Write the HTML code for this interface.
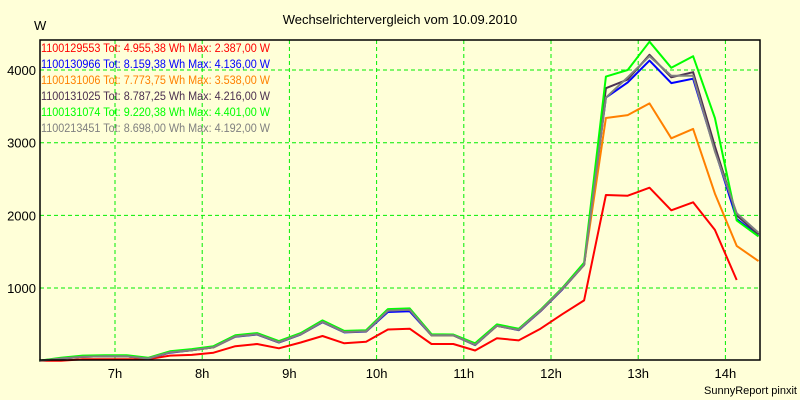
<!DOCTYPE html>
<html><head><meta charset="utf-8"><style>
body{margin:0;background:#ffffd8;}
svg{display:block;font-family:"Liberation Sans",sans-serif;}
</style></head><body>
<svg id="chart" width="800" height="400" viewBox="0 0 800 400">
<rect x="0" y="0" width="800" height="400" fill="#ffffd8"/>
<text x="400" y="24" font-size="13" text-anchor="middle">Wechselrichtervergleich vom 10.09.2010</text>
<text x="34" y="30" font-size="13">W</text>
<text x="797" y="394" font-size="11" text-anchor="end">SunnyReport pinxit</text>
<g id="grid"></g>
<g id="series"></g>
<rect x="40" y="40" width="720" height="320" fill="none" stroke="#000" stroke-width="1.5"/>
<g id="axes"></g>
<g id="legend"></g>
</svg>
<script>
const times=[6.13,6.38,6.63,6.88,7.13,7.38,7.63,7.88,8.13,8.38,8.63,8.88,9.13,9.38,9.63,9.88,10.13,10.38,10.63,10.88,11.13,11.38,11.63,11.88,12.13,12.38,12.63,12.88,13.13,13.38,13.63,13.88,14.13,14.38];
const yTicks=[1000,2000,3000,4000];
const xTicks=[7,8,9,10,11,12,13,14];
const xTickLabels=["7h","8h","9h","10h","11h","12h","13h","14h"];
const names=["1100129553","1100130966","1100131006","1100131025","1100131074","1100213451"];
const totals=["4.955,38","8.159,38","7.773,75","8.787,25","9.220,38","8.698,00"];
const maxima=["2.387,00","4.136,00","3.538,00","4.216,00","4.401,00","4.192,00"];
const colors=["#ff0000","#0000ff","#ff8000","#4b3050","#00ff00","#808080"];
const sRed=[0,0,20,20,20,20,70,80,110,200,230,170,250,340,240,260,430,440,230,230,140,310,280,440,640,830,2280,2270,2380,2070,2180,1800,1110,null];
const sBlue=[0,30,55,60,60,30,110,145,185,330,360,250,360,530,390,400,670,680,350,350,215,480,420,680,980,1320,3620,3830,4130,3820,3880,2900,1950,1720];
const sOrange=[0,30,55,60,60,30,115,145,185,335,365,255,365,535,395,405,690,710,350,350,220,480,425,685,985,1320,3340,3380,3540,3060,3190,2300,1580,1370];
const sPurple=[0,30,55,60,60,30,115,145,185,335,365,255,365,535,395,405,695,700,350,350,220,480,425,690,990,1320,3750,3870,4210,3900,3970,2950,2000,1740];
const sGreen=[0,40,70,75,75,40,130,160,200,350,380,270,380,555,410,420,710,720,365,360,240,500,440,700,1000,1350,3910,4000,4390,4030,4190,3340,1930,1710];
const sGray=[0,30,55,60,60,30,115,145,185,335,365,255,365,535,395,405,690,700,350,350,220,480,425,690,990,1320,3620,3900,4190,3920,3920,2880,2030,1760];
const seriesData=[sRed,sBlue,sOrange,sPurple,sGreen,sGray];
const NS="http://www.w3.org/2000/svg";
function xs(t){return 115+(t-7)*87.2;}
function ys(v){return 360.7-v*0.07267;}
const grid=document.getElementById('grid'),axes=document.getElementById('axes'),ser=document.getElementById('series'),leg=document.getElementById('legend');
yTicks.forEach(v=>{
 const l=document.createElementNS(NS,'line');
 
 
 l.setAttribute('x1',40);l.setAttribute('x2',760);l.setAttribute('y1',ys(v));l.setAttribute('y2',ys(v));
 l.setAttribute('stroke','#00ee00');l.setAttribute('stroke-dasharray','4,3');grid.appendChild(l);
 const t=document.createElementNS(NS,'text');
 
 
 t.setAttribute('x',36);t.setAttribute('y',ys(v)+5);t.setAttribute('font-size','13');t.setAttribute('text-anchor','end');
 t.textContent=v;axes.appendChild(t);
});
xTicks.forEach((h,i)=>{
 const l=document.createElementNS(NS,'line');
 
 
 l.setAttribute('x1',xs(h));l.setAttribute('x2',xs(h));l.setAttribute('y1',40);l.setAttribute('y2',360);
 l.setAttribute('stroke','#00ee00');l.setAttribute('stroke-dasharray','4,3');grid.appendChild(l);
 const t=document.createElementNS(NS,'text');
 
 
 t.setAttribute('x',xs(h));t.setAttribute('y',378);t.setAttribute('font-size','13');t.setAttribute('text-anchor','middle');
 t.textContent=xTickLabels[i];axes.appendChild(t);
});
seriesData.forEach((arr,k)=>{
 let pts=[];
 arr.forEach((v,i)=>{if(v!==null)pts.push(xs(times[i]).toFixed(1)+','+ys(v).toFixed(1));});
 const p=document.createElementNS(NS,'polyline');
 
 
 p.setAttribute('points',pts.join(' '));p.setAttribute('fill','none');
 p.setAttribute('stroke',colors[k]);p.setAttribute('stroke-width','2');p.setAttribute('stroke-linejoin','round');
 ser.appendChild(p);
});
names.forEach((n,k)=>{
 const t=document.createElementNS(NS,'text');
 
 
 t.setAttribute('x',41);t.setAttribute('y',52+k*16);t.setAttribute('font-size','11.5');t.setAttribute('fill',colors[k]);
 t.setAttribute('textLength','229');t.setAttribute('lengthAdjust','spacingAndGlyphs');
 t.textContent=n+' Tot: '+totals[k]+' Wh Max: '+maxima[k]+' W';
 leg.appendChild(t);
});
</script>
</body></html>
